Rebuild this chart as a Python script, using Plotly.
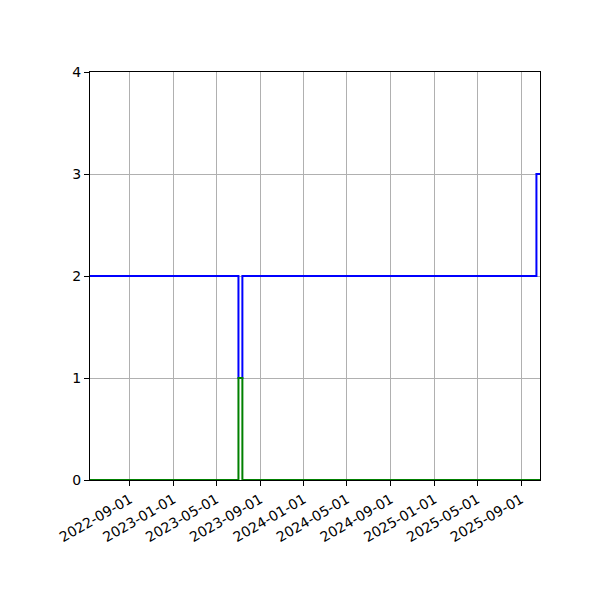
import plotly.graph_objects as go

# change points of the two step series (value holds until the next date)
blue_dates = ["2022-05-12", "2023-07-02", "2023-07-13", "2025-10-14", "2025-10-24"]
blue_values = [2, 1, 2, 3, 3]

green_dates = ["2022-05-12", "2023-07-02", "2023-07-13", "2025-10-24"]
green_values = [0, 1, 0, 0]

tick_dates = ["2022-09-01", "2023-01-01", "2023-05-01", "2023-09-01", "2024-01-01",
              "2024-05-01", "2024-09-01", "2025-01-01", "2025-05-01", "2025-09-01"]
y_ticks = [0, 1, 2, 3, 4]

fig = go.Figure()
fig.add_trace(go.Scatter(x=blue_dates, y=blue_values, mode="lines",
                         line=dict(color="#0000ff", width=2, shape="hv"),
                         showlegend=False))
fig.add_trace(go.Scatter(x=green_dates, y=green_values, mode="lines",
                         line=dict(color="#008000", width=2, shape="hv"),
                         showlegend=False))

axis_style = dict(showline=True, linecolor="black", linewidth=1, mirror=True,
                  showgrid=True, gridcolor="#b0b0b0", gridwidth=1,
                  ticks="outside", ticklen=5, tickcolor="black",
                  tickfont=dict(family="DejaVu Sans", size=14, color="black"),
                  zeroline=False)

# page body adds ~8px offset, margins compensate for it
fig.update_layout(
    width=600, height=600,
    margin=dict(l=82, r=68, t=64, b=128),
    plot_bgcolor="white", paper_bgcolor="white",
    xaxis=dict(range=[blue_dates[0], blue_dates[-1]], tickvals=tick_dates,
               ticktext=tick_dates, tickangle=-30, **axis_style),
    yaxis=dict(range=[0, 4], tickvals=y_ticks, **axis_style),
)

fig.write_html("out.html")
